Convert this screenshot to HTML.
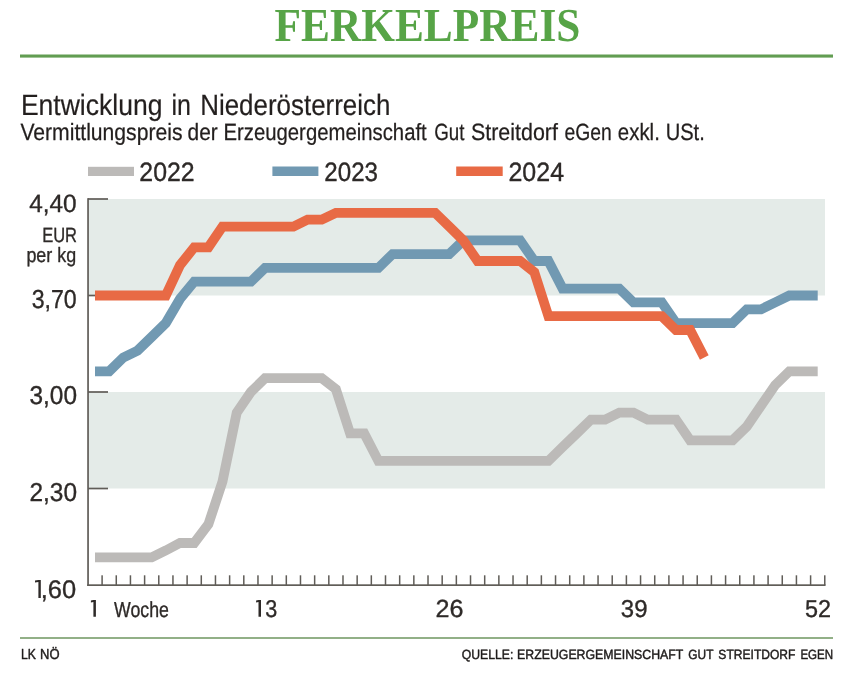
<!DOCTYPE html>
<html><head><meta charset="utf-8"><title>Ferkelpreis</title>
<style>
html,body{margin:0;padding:0;background:#fff;}
body{width:855px;height:680px;overflow:hidden;font-family:"Liberation Sans",sans-serif;}
svg{display:block;will-change:transform;} text{text-rendering:geometricPrecision;}
</style></head><body>
<svg width="855" height="680" viewBox="0 0 855 680">
<rect x="20" y="54.5" width="813" height="3.1" fill="#629d52"/>
<rect x="89" y="199.0" width="736" height="96.5" fill="#e4ebe8"/>
<rect x="89" y="392.0" width="736" height="96.5" fill="#e4ebe8"/>
<rect x="87.2" y="198.2" width="1.7" height="387.7" fill="#605d58"/>
<rect x="87.2" y="584.3" width="738.3" height="1.7" fill="#605d58"/>
<rect x="88" y="198.15" width="20" height="1.7" fill="#605d58"/>
<rect x="88" y="294.65" width="20" height="1.7" fill="#605d58"/>
<rect x="88" y="391.15" width="20" height="1.7" fill="#605d58"/>
<rect x="88" y="487.66" width="20" height="1.7" fill="#605d58"/>
<rect x="101.35" y="575.3" width="1.5" height="10" fill="#605d58"/>
<rect x="115.52" y="575.3" width="1.5" height="10" fill="#605d58"/>
<rect x="129.69" y="575.3" width="1.5" height="10" fill="#605d58"/>
<rect x="143.86" y="575.3" width="1.5" height="10" fill="#605d58"/>
<rect x="158.03" y="575.3" width="1.5" height="10" fill="#605d58"/>
<rect x="172.20" y="575.3" width="1.5" height="10" fill="#605d58"/>
<rect x="186.37" y="575.3" width="1.5" height="10" fill="#605d58"/>
<rect x="200.54" y="575.3" width="1.5" height="10" fill="#605d58"/>
<rect x="214.71" y="575.3" width="1.5" height="10" fill="#605d58"/>
<rect x="228.88" y="575.3" width="1.5" height="10" fill="#605d58"/>
<rect x="243.05" y="575.3" width="1.5" height="10" fill="#605d58"/>
<rect x="257.22" y="575.3" width="1.5" height="10" fill="#605d58"/>
<rect x="271.39" y="575.3" width="1.5" height="10" fill="#605d58"/>
<rect x="285.56" y="575.3" width="1.5" height="10" fill="#605d58"/>
<rect x="299.73" y="575.3" width="1.5" height="10" fill="#605d58"/>
<rect x="313.90" y="575.3" width="1.5" height="10" fill="#605d58"/>
<rect x="328.07" y="575.3" width="1.5" height="10" fill="#605d58"/>
<rect x="342.24" y="575.3" width="1.5" height="10" fill="#605d58"/>
<rect x="356.41" y="575.3" width="1.5" height="10" fill="#605d58"/>
<rect x="370.58" y="575.3" width="1.5" height="10" fill="#605d58"/>
<rect x="384.75" y="575.3" width="1.5" height="10" fill="#605d58"/>
<rect x="398.92" y="575.3" width="1.5" height="10" fill="#605d58"/>
<rect x="413.09" y="575.3" width="1.5" height="10" fill="#605d58"/>
<rect x="427.26" y="575.3" width="1.5" height="10" fill="#605d58"/>
<rect x="441.43" y="575.3" width="1.5" height="10" fill="#605d58"/>
<rect x="455.60" y="575.3" width="1.5" height="10" fill="#605d58"/>
<rect x="469.77" y="575.3" width="1.5" height="10" fill="#605d58"/>
<rect x="483.94" y="575.3" width="1.5" height="10" fill="#605d58"/>
<rect x="498.11" y="575.3" width="1.5" height="10" fill="#605d58"/>
<rect x="512.28" y="575.3" width="1.5" height="10" fill="#605d58"/>
<rect x="526.45" y="575.3" width="1.5" height="10" fill="#605d58"/>
<rect x="540.62" y="575.3" width="1.5" height="10" fill="#605d58"/>
<rect x="554.79" y="575.3" width="1.5" height="10" fill="#605d58"/>
<rect x="568.96" y="575.3" width="1.5" height="10" fill="#605d58"/>
<rect x="583.13" y="575.3" width="1.5" height="10" fill="#605d58"/>
<rect x="597.30" y="575.3" width="1.5" height="10" fill="#605d58"/>
<rect x="611.47" y="575.3" width="1.5" height="10" fill="#605d58"/>
<rect x="625.64" y="575.3" width="1.5" height="10" fill="#605d58"/>
<rect x="639.81" y="575.3" width="1.5" height="10" fill="#605d58"/>
<rect x="653.98" y="575.3" width="1.5" height="10" fill="#605d58"/>
<rect x="668.15" y="575.3" width="1.5" height="10" fill="#605d58"/>
<rect x="682.32" y="575.3" width="1.5" height="10" fill="#605d58"/>
<rect x="696.49" y="575.3" width="1.5" height="10" fill="#605d58"/>
<rect x="710.66" y="575.3" width="1.5" height="10" fill="#605d58"/>
<rect x="724.83" y="575.3" width="1.5" height="10" fill="#605d58"/>
<rect x="739.00" y="575.3" width="1.5" height="10" fill="#605d58"/>
<rect x="753.17" y="575.3" width="1.5" height="10" fill="#605d58"/>
<rect x="767.34" y="575.3" width="1.5" height="10" fill="#605d58"/>
<rect x="781.51" y="575.3" width="1.5" height="10" fill="#605d58"/>
<rect x="795.68" y="575.3" width="1.5" height="10" fill="#605d58"/>
<rect x="809.85" y="575.3" width="1.5" height="10" fill="#605d58"/>
<rect x="824.02" y="575.3" width="1.5" height="10" fill="#605d58"/>
<polyline points="95.0,557.4 109.2,557.4 123.3,557.4 137.5,557.4 151.7,557.4 165.8,550.5 180.0,543.0 194.2,543.0 208.4,524.3 222.5,481.6 236.7,412.7 250.9,392.0 265.0,378.2 279.2,378.2 293.4,378.2 307.6,378.2 321.7,378.2 335.9,389.2 350.1,433.4 364.2,433.4 378.4,460.9 392.6,460.9 406.7,460.9 420.9,460.9 435.1,460.9 449.2,460.9 463.4,460.9 477.6,460.9 491.8,460.9 505.9,460.9 520.1,460.9 534.3,460.9 548.4,460.9 562.6,447.1 576.8,433.4 591.0,419.6 605.1,419.6 619.3,412.7 633.5,412.7 647.6,419.6 661.8,419.6 676.0,419.6 690.1,440.3 704.3,440.3 718.5,440.3 732.6,440.3 746.8,426.5 761.0,405.8 775.2,385.1 789.3,371.3 803.5,371.3 817.7,371.3" fill="none" stroke="#bcbab8" stroke-width="9.8" stroke-linejoin="miter" stroke-miterlimit="4"/>
<polyline points="95.0,371.3 109.2,371.3 123.3,357.5 137.5,350.6 151.7,336.9 165.8,323.1 180.0,298.9 194.2,281.7 208.4,281.7 222.5,281.7 236.7,281.7 250.9,281.7 265.0,267.9 279.2,267.9 293.4,267.9 307.6,267.9 321.7,267.9 335.9,267.9 350.1,267.9 364.2,267.9 378.4,267.9 392.6,254.1 406.7,254.1 420.9,254.1 435.1,254.1 449.2,254.1 463.4,240.4 477.6,240.4 491.8,240.4 505.9,240.4 520.1,240.4 534.3,261.0 548.4,261.0 562.6,288.6 576.8,288.6 591.0,288.6 605.1,288.6 619.3,288.6 633.5,302.4 647.6,302.4 661.8,302.4 676.0,323.1 690.1,323.1 704.3,323.1 718.5,323.1 732.6,323.1 746.8,309.3 761.0,309.3 775.2,302.4 789.3,295.5 803.5,295.5 817.7,295.5" fill="none" stroke="#7199b2" stroke-width="9.8" stroke-linejoin="miter" stroke-miterlimit="4"/>
<polyline points="95.0,295.5 109.2,295.5 123.3,295.5 137.5,295.5 151.7,295.5 165.8,295.5 180.0,265.2 194.2,247.3 208.4,247.3 222.5,226.6 236.7,226.6 250.9,226.6 265.0,226.6 279.2,226.6 293.4,226.6 307.6,219.7 321.7,219.7 335.9,212.8 350.1,212.8 364.2,212.8 378.4,212.8 392.6,212.8 406.7,212.8 420.9,212.8 435.1,212.8 449.2,226.6 463.4,240.4 477.6,261.0 491.8,261.0 505.9,261.0 520.1,261.0 534.3,272.1 548.4,316.2 562.6,316.2 576.8,316.2 591.0,316.2 605.1,316.2 619.3,316.2 633.5,316.2 647.6,316.2 661.8,316.2 676.0,330.0 690.1,330.0 704.3,357.5" fill="none" stroke="#e86a45" stroke-width="9.8" stroke-linejoin="miter" stroke-miterlimit="4"/>
<rect x="88" y="166.8" width="46" height="9.2" fill="#bcbab8"/>
<rect x="272.4" y="166.5" width="46" height="9.5" fill="#7199b2"/>
<rect x="456.2" y="166.5" width="46.5" height="9.5" fill="#e86a45"/>
<rect x="20" y="637" width="813" height="2" fill="#92b087"/>
<path d="M35.00,580.50 L38.40,580.00 L40.80,580.00 L40.80,598.10 L38.40,598.10 L38.40,581.90 L35.00,582.40 Z" fill="#2e2a28"/>
<path d="M90.90,600.60 L93.40,600.10 L95.90,600.10 L95.90,616.80 L93.40,616.80 L93.40,602.10 L90.90,602.60 Z" fill="#2e2a28"/>
<path d="M256.10,600.40 L258.50,599.90 L261.00,599.90 L261.00,616.80 L258.50,616.80 L258.50,601.90 L256.10,602.40 Z" fill="#2e2a28"/>
<text id="title_0" x="274.49" y="41" font-family="Liberation Serif, sans-serif" font-weight="bold" font-size="47.36" fill="#57a447" textLength="305.99" lengthAdjust="spacingAndGlyphs">FERKELPREIS</text>
<text id="h1_0" x="20.89" y="115" font-family="Liberation Sans, sans-serif" font-weight="normal" font-size="29.45" fill="#231f1e" stroke="#231f1e" stroke-width="0.2" stroke-linejoin="round" textLength="141.56" lengthAdjust="spacingAndGlyphs">Entwicklung</text>
<text id="h1_1" x="171.53" y="115" font-family="Liberation Sans, sans-serif" font-weight="normal" font-size="29.45" fill="#231f1e" stroke="#231f1e" stroke-width="0.2" stroke-linejoin="round" textLength="19.51" lengthAdjust="spacingAndGlyphs">in</text>
<text id="h1_2" x="200.24" y="115" font-family="Liberation Sans, sans-serif" font-weight="normal" font-size="29.45" fill="#231f1e" stroke="#231f1e" stroke-width="0.2" stroke-linejoin="round" textLength="190.10" lengthAdjust="spacingAndGlyphs">Niederösterreich</text>
<text id="h2_0" x="20.38" y="140" font-family="Liberation Sans, sans-serif" font-weight="normal" font-size="23.51" fill="#231f1e" stroke="#231f1e" stroke-width="0.25" stroke-linejoin="round" textLength="162.12" lengthAdjust="spacingAndGlyphs">Vermittlungspreis</text>
<text id="h2_1" x="187.61" y="140" font-family="Liberation Sans, sans-serif" font-weight="normal" font-size="23.51" fill="#231f1e" stroke="#231f1e" stroke-width="0.25" stroke-linejoin="round" textLength="30.20" lengthAdjust="spacingAndGlyphs">der</text>
<text id="h2_2" x="223.44" y="140" font-family="Liberation Sans, sans-serif" font-weight="normal" font-size="23.51" fill="#231f1e" stroke="#231f1e" stroke-width="0.25" stroke-linejoin="round" textLength="203.30" lengthAdjust="spacingAndGlyphs">Erzeugergemeinschaft</text>
<text id="h2_3" x="434.13" y="140" font-family="Liberation Sans, sans-serif" font-weight="normal" font-size="23.51" fill="#231f1e" stroke="#231f1e" stroke-width="0.25" stroke-linejoin="round" textLength="30.22" lengthAdjust="spacingAndGlyphs">Gut</text>
<text id="h2_4" x="470.94" y="140" font-family="Liberation Sans, sans-serif" font-weight="normal" font-size="23.51" fill="#231f1e" stroke="#231f1e" stroke-width="0.25" stroke-linejoin="round" textLength="86.96" lengthAdjust="spacingAndGlyphs">Streitdorf</text>
<text id="h2_5" x="564.43" y="140" font-family="Liberation Sans, sans-serif" font-weight="normal" font-size="23.51" fill="#231f1e" stroke="#231f1e" stroke-width="0.25" stroke-linejoin="round" textLength="47.30" lengthAdjust="spacingAndGlyphs">eGen</text>
<text id="h2_6" x="617.85" y="140" font-family="Liberation Sans, sans-serif" font-weight="normal" font-size="23.51" fill="#231f1e" stroke="#231f1e" stroke-width="0.25" stroke-linejoin="round" textLength="41.97" lengthAdjust="spacingAndGlyphs">exkl.</text>
<text id="h2_7" x="665.64" y="140" font-family="Liberation Sans, sans-serif" font-weight="normal" font-size="23.51" fill="#231f1e" stroke="#231f1e" stroke-width="0.25" stroke-linejoin="round" textLength="39.13" lengthAdjust="spacingAndGlyphs">USt.</text>
<text id="leg22_0" x="139.36" y="181" font-family="Liberation Sans, sans-serif" font-weight="normal" font-size="26.47" fill="#2e2a28" stroke="#2e2a28" stroke-width="0.35" stroke-linejoin="round" textLength="55.32" lengthAdjust="spacingAndGlyphs">2022</text>
<text id="leg23_0" x="324.34" y="181" font-family="Liberation Sans, sans-serif" font-weight="normal" font-size="26.46" fill="#2e2a28" stroke="#2e2a28" stroke-width="0.35" stroke-linejoin="round" textLength="53.68" lengthAdjust="spacingAndGlyphs">2023</text>
<text id="leg24_0" x="508.47" y="181" font-family="Liberation Sans, sans-serif" font-weight="normal" font-size="26.44" fill="#2e2a28" stroke="#2e2a28" stroke-width="0.35" stroke-linejoin="round" textLength="55.56" lengthAdjust="spacingAndGlyphs">2024</text>
<text id="y440_0" x="29.16" y="212" font-family="Liberation Sans, sans-serif" font-weight="normal" font-size="24.99" fill="#2e2a28" stroke="#2e2a28" stroke-width="0.35" stroke-linejoin="round" textLength="47.48" lengthAdjust="spacingAndGlyphs">4,40</text>
<text id="y370_0" x="31.66" y="308" font-family="Liberation Sans, sans-serif" font-weight="normal" font-size="26.05" fill="#2e2a28" stroke="#2e2a28" stroke-width="0.35" stroke-linejoin="round" textLength="45.11" lengthAdjust="spacingAndGlyphs">3,70</text>
<text id="y300_0" x="29.46" y="404" font-family="Liberation Sans, sans-serif" font-weight="normal" font-size="25.78" fill="#2e2a28" stroke="#2e2a28" stroke-width="0.35" stroke-linejoin="round" textLength="47.51" lengthAdjust="spacingAndGlyphs">3,00</text>
<text id="y230_0" x="29.47" y="501" font-family="Liberation Sans, sans-serif" font-weight="normal" font-size="25.86" fill="#2e2a28" stroke="#2e2a28" stroke-width="0.35" stroke-linejoin="round" textLength="47.60" lengthAdjust="spacingAndGlyphs">2,30</text>
<text id="y160_0" x="40.68" y="598" font-family="Liberation Sans, sans-serif" font-weight="normal" font-size="25.45" fill="#2e2a28" stroke="#2e2a28" stroke-width="0.35" stroke-linejoin="round" textLength="35.45" lengthAdjust="spacingAndGlyphs">,60</text>
<text id="eur_0" x="42.20" y="242" font-family="Liberation Sans, sans-serif" font-weight="normal" font-size="20.55" fill="#2e2a28" stroke="#2e2a28" stroke-width="0.35" stroke-linejoin="round" textLength="34.85" lengthAdjust="spacingAndGlyphs">EUR</text>
<text id="perkg_0" x="26.39" y="262" font-family="Liberation Sans, sans-serif" font-weight="normal" font-size="20.67" fill="#2e2a28" stroke="#2e2a28" stroke-width="0.35" stroke-linejoin="round" textLength="49.77" lengthAdjust="spacingAndGlyphs">per kg</text>
<text id="woche_0" x="114.08" y="617" font-family="Liberation Sans, sans-serif" font-weight="normal" font-size="21.73" fill="#2e2a28" stroke="#2e2a28" stroke-width="0.35" stroke-linejoin="round" textLength="54.84" lengthAdjust="spacingAndGlyphs">Woche</text>
<text id="x13_0" x="265.20" y="617" font-family="Liberation Sans, sans-serif" font-weight="normal" font-size="24.28" fill="#2e2a28" stroke="#2e2a28" stroke-width="0.35" stroke-linejoin="round" textLength="12.01" lengthAdjust="spacingAndGlyphs">3</text>
<text id="x26_0" x="435.46" y="617" font-family="Liberation Sans, sans-serif" font-weight="normal" font-size="24.77" fill="#2e2a28" stroke="#2e2a28" stroke-width="0.35" stroke-linejoin="round" textLength="27.94" lengthAdjust="spacingAndGlyphs">26</text>
<text id="x39_0" x="620.80" y="617" font-family="Liberation Sans, sans-serif" font-weight="normal" font-size="24.41" fill="#2e2a28" stroke="#2e2a28" stroke-width="0.35" stroke-linejoin="round" textLength="26.68" lengthAdjust="spacingAndGlyphs">39</text>
<text id="x52_0" x="805.06" y="617" font-family="Liberation Sans, sans-serif" font-weight="normal" font-size="24.48" fill="#2e2a28" stroke="#2e2a28" stroke-width="0.35" stroke-linejoin="round" textLength="26.05" lengthAdjust="spacingAndGlyphs">52</text>
<text id="lk_0" x="20.90" y="659" font-family="Liberation Sans, sans-serif" font-weight="normal" font-size="14.45" fill="#1f1c1b" stroke="#1f1c1b" stroke-width="0.45" stroke-linejoin="round" textLength="14.88" lengthAdjust="spacingAndGlyphs">LK</text>
<text id="lk_1" x="40.02" y="659" font-family="Liberation Sans, sans-serif" font-weight="normal" font-size="14.45" fill="#1f1c1b" stroke="#1f1c1b" stroke-width="0.45" stroke-linejoin="round" textLength="19.46" lengthAdjust="spacingAndGlyphs">NÖ</text>
<text id="quelle_0" x="461.79" y="659" font-family="Liberation Sans, sans-serif" font-weight="normal" font-size="13.32" fill="#1f1c1b" stroke="#1f1c1b" stroke-width="0.45" stroke-linejoin="round" textLength="51.59" lengthAdjust="spacingAndGlyphs">QUELLE:</text>
<text id="quelle_1" x="517.11" y="659" font-family="Liberation Sans, sans-serif" font-weight="normal" font-size="13.32" fill="#1f1c1b" stroke="#1f1c1b" stroke-width="0.45" stroke-linejoin="round" textLength="166.16" lengthAdjust="spacingAndGlyphs">ERZEUGERGEMEINSCHAFT</text>
<text id="quelle_2" x="688.32" y="659" font-family="Liberation Sans, sans-serif" font-weight="normal" font-size="13.32" fill="#1f1c1b" stroke="#1f1c1b" stroke-width="0.45" stroke-linejoin="round" textLength="25.14" lengthAdjust="spacingAndGlyphs">GUT</text>
<text id="quelle_3" x="718.36" y="659" font-family="Liberation Sans, sans-serif" font-weight="normal" font-size="13.32" fill="#1f1c1b" stroke="#1f1c1b" stroke-width="0.45" stroke-linejoin="round" textLength="77.09" lengthAdjust="spacingAndGlyphs">STREITDORF</text>
<text id="quelle_4" x="800.40" y="659" font-family="Liberation Sans, sans-serif" font-weight="normal" font-size="13.32" fill="#1f1c1b" stroke="#1f1c1b" stroke-width="0.45" stroke-linejoin="round" textLength="32.71" lengthAdjust="spacingAndGlyphs">EGEN</text>
</svg>
</body></html>
